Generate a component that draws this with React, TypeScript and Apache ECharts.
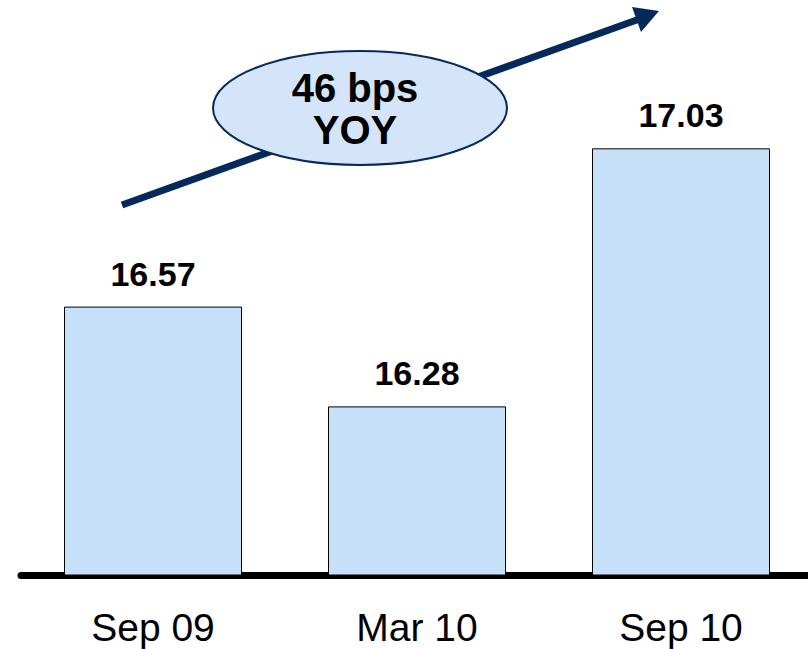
import React, { useEffect, useRef } from "react";
import * as echarts from "echarts";

const categories = ["Sep 09", "Mar 10", "Sep 10"];
const values = [16.57, 16.28, 17.03];
const calloutText = "46 bps\nYOY";

export default function App() {
  const ref = useRef<HTMLDivElement>(null);
  useEffect(() => {
    if (!ref.current) return;
    const chart = echarts.init(ref.current, null, { renderer: "svg" });
    const navy = "#06295c";
    chart.setOption({
      animation: false,
      backgroundColor: "#ffffff",
      grid: {
        left: 21,
        width: 792,
        top: 21,
        bottom: 74,
        containLabel: false,
        outerBoundsMode: "none",
      },
      xAxis: {
        type: "category",
        data: categories,
        axisLine: { show: true, lineStyle: { color: "#000", width: 7 } },
        axisTick: { show: false },
        axisLabel: {
          color: "#000",
          fontFamily: "Liberation Sans, Arial, sans-serif",
          fontSize: 39,
          margin: 33,
        },
      },
      yAxis: {
        type: "value",
        min: 15.79,
        max: 17.4,
        show: false,
        splitLine: { show: false },
      },
      series: [
        {
          type: "bar",
          data: values,
          barWidth: 178,
          itemStyle: { color: "#c6e0fa", borderColor: "#000", borderWidth: 1 },
          label: {
            show: true,
            position: "top",
            distance: 16,
            color: "#000",
            fontWeight: "bold",
            fontSize: 34,
            fontFamily: "Liberation Sans, Arial, sans-serif",
            formatter: (p: any) => p.value.toFixed(2),
          },
        },
      ],
      graphic: [
        {
          type: "line",
          z: 10,
          shape: { x1: 122, y1: 205, x2: 645, y2: 17 },
          style: { stroke: navy, lineWidth: 7 },
        },
        {
          type: "polygon",
          z: 10,
          shape: { points: [[659, 11], [632, 7], [641, 32]] },
          style: { fill: navy },
        },
        {
          type: "ellipse",
          z: 11,
          shape: { cx: 360, cy: 108, rx: 147, ry: 57 },
          style: { fill: "#d4e5fa", stroke: navy, lineWidth: 2 },
        },
        {
          type: "text",
          z: 12,
          x: 355,
          y: 109,
          style: {
            text: calloutText,
            fill: "#000",
            font: "bold 40px 'Liberation Sans', Arial, sans-serif",
            lineHeight: 42,
            align: "center",
            verticalAlign: "middle",
          },
        },
      ],
    });
    return () => chart.dispose();
  }, []);
  return (
    <div
      ref={ref}
      style={{ position: "fixed", left: 0, top: 0, width: 808, height: 649 }}
    />
  );
}
